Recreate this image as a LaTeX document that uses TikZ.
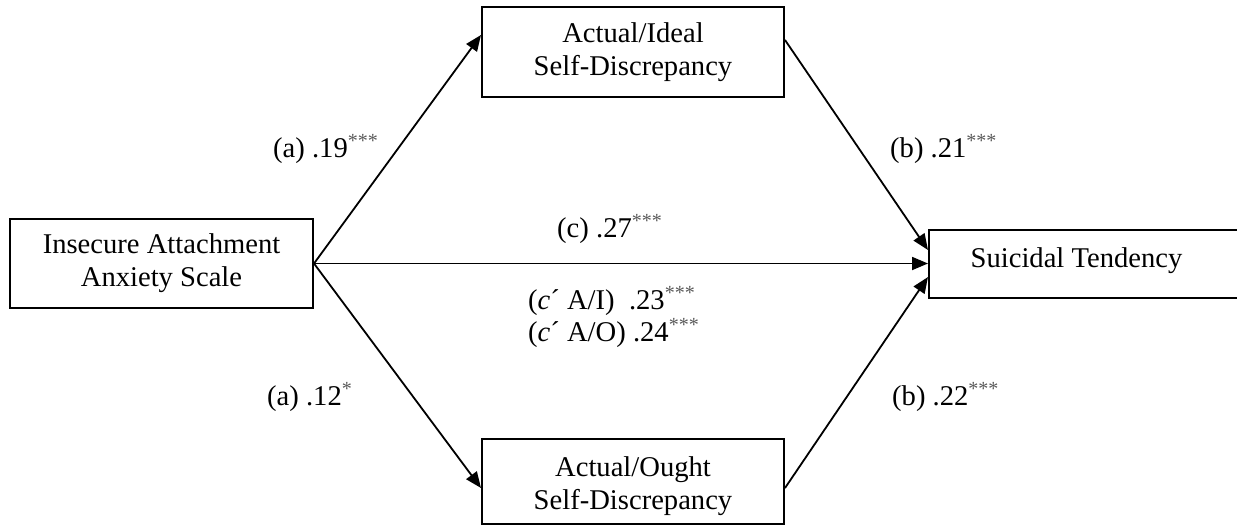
\documentclass[tikz,border=0pt]{standalone}
\usepackage{fontspec}
\setmainfont{Liberation Serif}
\usetikzlibrary{arrows.meta,calc}

\newcommand{\stars}[1]{\textsuperscript{\textcolor{black!65}{#1}}}

\begin{document}
\begin{tikzpicture}[x=1pt,y=-1pt,
  every node/.style={font=\fontsize{28.6pt}{33pt}\selectfont},
  box/.style={draw,line width=2pt,rectangle,inner sep=0pt,align=center},
  conn/.style={line width=1.8pt,-{Triangle[length=16pt,width=13pt]}},
  coef/.style={anchor=base west,inner sep=0pt}]
\useasboundingbox (0,0) rectangle (1237,525);

% variables
\node[box,minimum width=303pt,minimum height=89pt] (ia) at (161.5,263.5)
  {Insecure Attachment\\Anxiety Scale};
\node[box,minimum width=302pt,minimum height=90pt] (ai) at (633,52)
  {Actual/Ideal\\Self-Discrepancy};
\node[box,minimum width=302pt,minimum height=85pt] (ao) at (633,481.5) {};
\node[align=center,inner sep=0pt] (aotext) at ($(ao.center)+(0,5)$)
  {Actual/Ought\\Self-Discrepancy};
\node[box,minimum width=312pt,minimum height=68pt] (st) at (1085,264) {};
\node[anchor=base,inner sep=0pt] (sttext) at (1076.5,267) {Suicidal Tendency};

% paths
\draw[conn] (ia.east) -- ($(ai.west)+(0,-17)$);
\draw[conn] (ia.east) -- ($(ao.west)+(0,6.5)$);
\draw[conn] (ia.east) -- (ia.east -| st.west);
\draw[conn] ($(ai.east)+(0,-12)$) -- ($(st.west)+(0,-14)$);
\draw[conn] ($(ao.east)+(0,6.5)$) -- ($(st.west)+(0,13)$);

% coefficients
\node[coef] (a1) at (273,157) {(a) .19\stars{***}};
\node[coef] (b1) at (890,157) {(b) .21\stars{***}};
\node[coef] (c) at (557,237) {(c) .27\stars{***}};
\node[coef] (cai) at (528,309) {(\textit{c}´ A/I)\ \ .23\stars{***}};
\node[coef] (cao) at (528,341) {(\textit{c}´ A/O) .24\stars{***}};
\node[coef] (a2) at (267,405) {(a) .12\stars{*}};
\node[coef] (b2) at (892,405) {(b) .22\stars{***}};
\end{tikzpicture}
\end{document}
